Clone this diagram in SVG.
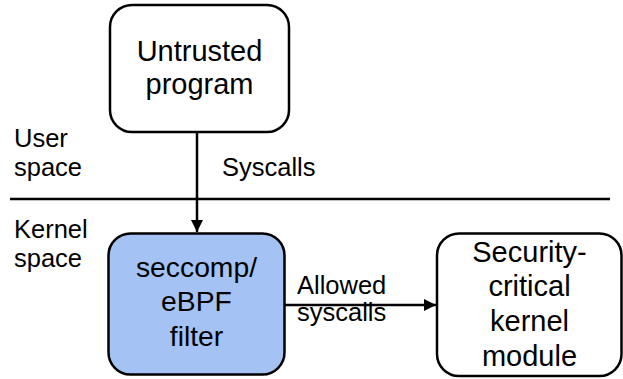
<svg xmlns="http://www.w3.org/2000/svg" width="623" height="379" viewBox="0 0 623 379">
  <style>
    text { font-family: "Liberation Sans", Arial, sans-serif; fill: #000; }
    .node { font-size: 29px; text-anchor: middle; }
    .lbl { font-size: 25.5px; }
    .box { stroke: #000; stroke-width: 2.5; }
    .conn { stroke: #000; stroke-width: 2.5; fill: none; }
  </style>
  <defs>
    <marker id="arrow" viewBox="0 0 10 10" refX="10" refY="5" markerUnits="userSpaceOnUse" markerWidth="15" markerHeight="12" orient="auto">
      <path d="M0,0 L10,5 L0,10 z" fill="#000"/>
    </marker>
  </defs>

  <!-- user/kernel boundary -->
  <line x1="10" y1="199" x2="610" y2="199" stroke="#000" stroke-width="2.5"/>
  <text class="lbl" x="14" y="147">User</text>
  <text class="lbl" x="14" y="176">space</text>
  <text class="lbl" x="14" y="238">Kernel</text>
  <text class="lbl" x="14" y="267">space</text>

  <g id="untrusted-program">
    <rect class="box" x="110" y="5" width="179" height="127" rx="22" fill="#fff"/>
    <text class="node" x="199.5" y="61">Untrusted</text>
    <text class="node" x="199.5" y="94">program</text>
  </g>

  <g id="seccomp-filter">
    <rect class="box" x="108.5" y="233.5" width="176" height="141" rx="22" fill="#a4c2f4"/>
    <text class="node" x="196.5" y="277" style="font-size:28.3px">seccomp/</text>
    <text class="node" x="196.5" y="311" style="font-size:28.3px">eBPF</text>
    <text class="node" x="196.5" y="346" style="font-size:28.3px">filter</text>
  </g>

  <g id="kernel-module">
    <rect class="box" x="437" y="233.5" width="184.5" height="142.5" rx="22" fill="#fff"/>
    <text class="node" x="529.5" y="262">Security-</text>
    <text class="node" x="529.5" y="296">critical</text>
    <text class="node" x="529.5" y="331">kernel</text>
    <text class="node" x="529.5" y="366">module</text>
  </g>

  <g id="connectors">
    <line class="conn" x1="197" y1="133" x2="197" y2="232" marker-end="url(#arrow)"/>
    <text class="lbl" x="222" y="176">Syscalls</text>
    <line class="conn" x1="285" y1="305" x2="436" y2="305" marker-end="url(#arrow)"/>
    <text class="lbl" x="297" y="294">Allowed</text>
    <text class="lbl" x="297" y="321">syscalls</text>
  </g>
</svg>
